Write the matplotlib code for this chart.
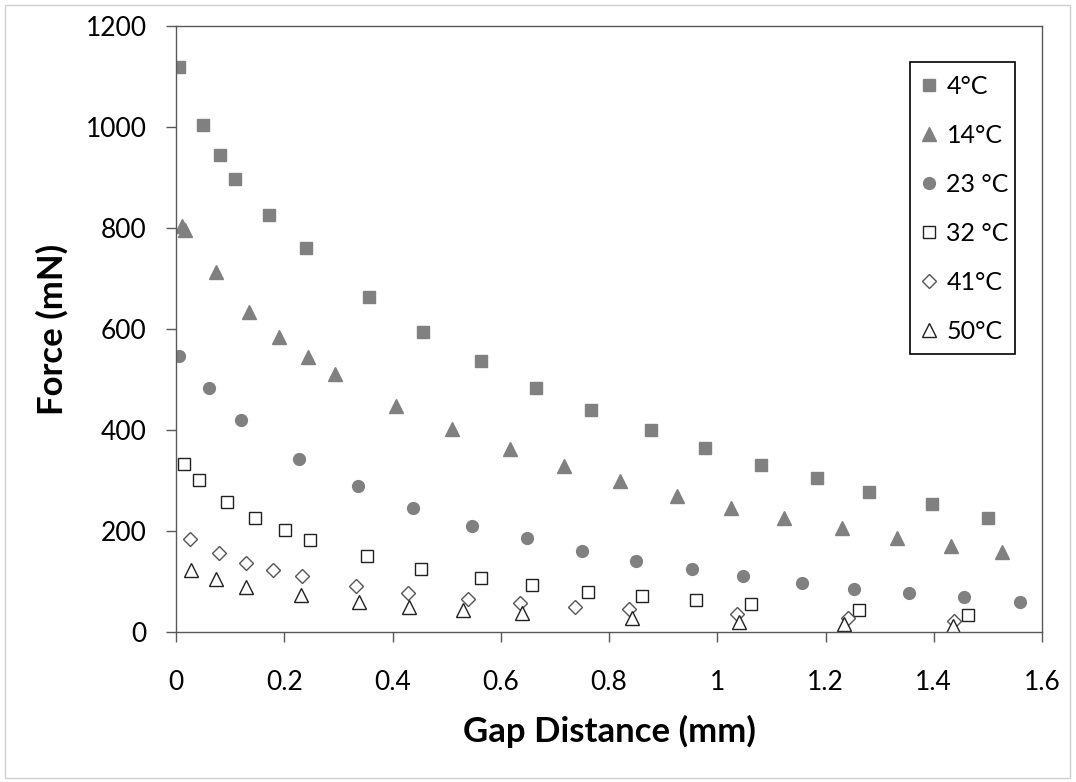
import matplotlib.pyplot as plt
from matplotlib.patches import Rectangle

plt.rcParams['font.family'] = ['Lato', 'DejaVu Sans']

# gap distance (mm) and force (mN) for each temperature
t4_x = [0.005, 0.050, 0.081, 0.109, 0.172, 0.240, 0.357, 0.456, 0.563, 0.665,
        0.766, 0.878, 0.977, 1.081, 1.185, 1.281, 1.396, 1.500]
t4_y = [1119, 1004, 945, 898, 826, 760, 663, 595, 536, 484,
        440, 400, 365, 331, 304, 277, 253, 225]

t14_x = [0.011, 0.016, 0.073, 0.135, 0.190, 0.243, 0.294, 0.407, 0.510, 0.617,
         0.716, 0.820, 0.926, 1.025, 1.124, 1.231, 1.333, 1.431, 1.527]
t14_y = [804, 797, 713, 634, 584, 545, 511, 448, 402, 363,
         328, 299, 269, 245, 225, 205, 187, 170, 158]

t23_x = [0.006, 0.061, 0.121, 0.227, 0.336, 0.438, 0.547, 0.649, 0.751, 0.850,
         0.953, 1.047, 1.157, 1.253, 1.354, 1.456, 1.560]
t23_y = [547, 484, 420, 342, 289, 246, 210, 186, 160, 141,
         125, 111, 98, 85, 77, 70, 60]

t32_x = [0.014, 0.043, 0.095, 0.146, 0.201, 0.248, 0.353, 0.453, 0.563, 0.657,
         0.761, 0.861, 0.961, 1.063, 1.261, 1.463]
t32_y = [332, 301, 258, 226, 201, 183, 150, 125, 106, 94,
         80, 72, 63, 55, 43, 33]

t41_x = [0.025, 0.079, 0.129, 0.180, 0.233, 0.332, 0.429, 0.540, 0.636, 0.738,
         0.837, 1.037, 1.241, 1.438]
t41_y = [185, 157, 137, 122, 110, 91, 78, 66, 58, 49, 45, 35, 27, 22]

t50_x = [0.028, 0.073, 0.129, 0.231, 0.339, 0.431, 0.530, 0.639, 0.842, 1.040,
         1.235, 1.435]
t50_y = [122, 105, 90, 73, 60, 50, 43, 37, 27, 20, 15, 12]

labels = ['4°C', '14°C', '23 °C', '32 °C', '41°C', '50°C']

W, H = 1076, 782
fig = plt.figure(figsize=(W / 100, H / 100), dpi=100)
ax = fig.add_axes([176 / W, 1 - 632 / H, 866 / W, 606 / H])

grey = '#808080'
ax.plot(t4_x, t4_y, ls='none', marker='s', ms=8, mfc=grey, mec=grey, label=labels[0])
ax.plot(t14_x, t14_y, ls='none', marker='^', ms=10, mfc=grey, mec=grey, label=labels[1])
ax.plot(t23_x, t23_y, ls='none', marker='o', ms=8.5, mfc=grey, mec=grey, label=labels[2])
ax.plot(t32_x, t32_y, ls='none', marker='s', ms=8, mfc='white', mec='#202020', mew=1, label=labels[3])
ax.plot(t41_x, t41_y, ls='none', marker='D', ms=7, mfc='white', mec='#555555', mew=1, label=labels[4])
ax.plot(t50_x, t50_y, ls='none', marker='^', ms=9.5, mfc='white', mec='#202020', mew=1, label=labels[5])

ax.set_xlim(0, 1.6)
ax.set_ylim(0, 1200)
ax.set_xticks([0, 0.2, 0.4, 0.6, 0.8, 1.0, 1.2, 1.4, 1.6])
ax.set_xticklabels(['0', '0.2', '0.4', '0.6', '0.8', '1', '1.2', '1.4', '1.6'])
ax.set_yticks(range(0, 1201, 200))

for s in ax.spines.values():
    s.set_color('#595959')
    s.set_linewidth(1)
ax.tick_params(axis='both', direction='out', length=7, width=1, color='#595959',
               labelsize=19, labelcolor='black')
ax.tick_params(axis='x', pad=20)
ax.tick_params(axis='y', pad=14)

ax.set_xlabel('Gap Distance (mm)', fontsize=25, fontweight='bold', labelpad=15)
ax.set_ylabel('Force (mN)', fontsize=25, fontweight='bold', labelpad=12)

# legend entries without their own frame; the box is drawn separately
leg = ax.legend(loc='upper left', bbox_to_anchor=(919 / W, 1 - 75 / H),
                bbox_transform=fig.transFigure, fontsize=18, frameon=False,
                borderpad=0, labelspacing=1.04, handlelength=0.8,
                handletextpad=0.3, borderaxespad=0)
fig.patches.append(Rectangle((910 / W, 1 - 354 / H), 105 / W, 292 / H,
                             transform=fig.transFigure, fill=False,
                             edgecolor='black', linewidth=1.2))

# light frame round the whole chart
fig.patches.append(Rectangle((5 / W, 4 / H), 1065 / W, 773 / H,
                             transform=fig.transFigure, fill=False,
                             edgecolor='#d0d0d0', linewidth=1))

fig.savefig('out.png', dpi=100)
